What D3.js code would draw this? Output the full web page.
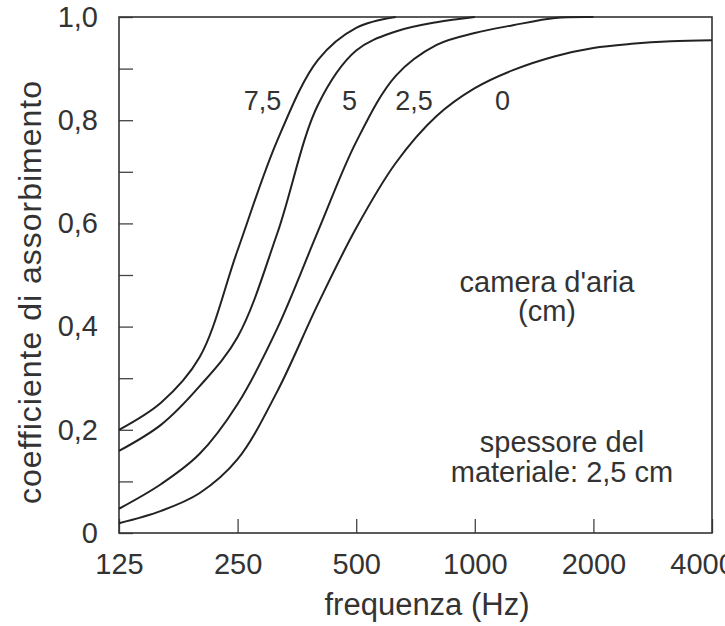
<!DOCTYPE html>
<html>
<head>
<meta charset="utf-8">
<script src="https://cdn.jsdelivr.net/npm/d3@7"></script>
<style>
  body { margin: 0; background: #fff; }
  text { font-family: "Liberation Sans", Arial, Helvetica, sans-serif; fill: #333; }
</style>
</head>
<body>
<div id="chart"></div>
<script>
// frequenze (Hz) dei punti
const freqs = [125, 160, 200, 250, 315, 400, 500, 630, 800, 1000, 1250, 1600, 2000, 2500, 3150, 4000];

// coefficiente di assorbimento per camera d'aria (cm)
const air75 = [0.200, 0.253, 0.340, 0.548, 0.760, 0.917, 0.979, 1.000];
const air5  = [0.159, 0.210, 0.284, 0.380, 0.580, 0.830, 0.935, 0.972, 0.990, 1.000];
const air25 = [0.047, 0.095, 0.153, 0.250, 0.396, 0.585, 0.758, 0.886, 0.946, 0.969, 0.984, 0.998, 1.000];
const air0  = [0.019, 0.043, 0.077, 0.143, 0.274, 0.444, 0.591, 0.717, 0.808, 0.862, 0.897, 0.924, 0.940, 0.948, 0.953, 0.955];

const curveLabels = ["7,5", "5", "2,5", "0"];
const labelFreqs = [289, 481, 701, 1176];
const labelValue = 0.82;

const xTicks = [125, 250, 500, 1000, 2000, 4000];
const yTicks = [0, 0.2, 0.4, 0.6, 0.8, 1.0];
const yMinor = [0.1, 0.3, 0.5, 0.7, 0.9];

const W = 725, H = 626;
const margin = { top: 17, right: 13, bottom: 93, left: 119 };
const width = W - margin.left - margin.right;
const height = H - margin.top - margin.bottom;

const svg = d3.select("#chart").append("svg")
  .attr("width", W)
  .attr("height", H);

const g = svg.append("g")
  .attr("transform", `translate(${margin.left},${margin.top})`);

const x = d3.scaleLog().base(2).domain([125, 4000]).range([0, width]);
const y = d3.scaleLinear().domain([0, 1]).range([height, 0]);

const fmt = d => d === 0 ? "0" : d3.format(".1f")(d).replace(".", ",");

// assi con tacche interne
const xAxis = g.append("g")
  .attr("transform", `translate(0,${height})`)
  .call(d3.axisBottom(x).tickValues(xTicks).tickFormat(d3.format("d")).tickSize(-14).tickPadding(20));

const yAxis = g.append("g")
  .call(d3.axisLeft(y).tickValues(yTicks).tickFormat(fmt).tickSize(-14).tickPadding(21));

g.append("g")
  .call(d3.axisLeft(y).tickValues(yMinor).tickFormat("").tickSize(-14));

g.selectAll(".domain").remove();
g.selectAll(".tick line").attr("stroke", "#444").attr("stroke-width", 1.3);

xAxis.selectAll("text").style("font-size", "29px").attr("fill", "#333");
xAxis.selectAll("text").filter(d => d === 4000).attr("dx", -10);
yAxis.selectAll("text").style("font-size", "29px").attr("fill", "#333");

// cornice
g.append("rect")
  .attr("width", width)
  .attr("height", height)
  .attr("fill", "none")
  .attr("stroke", "#333")
  .attr("stroke-width", 1.6);

// curve
const series = [air75, air5, air25, air0];
const line = d3.line()
  .x((d, i) => x(freqs[i]))
  .y(d => y(d))
  .curve(d3.curveCatmullRom.alpha(0.5));

g.selectAll("path.curve")
  .data(series)
  .enter().append("path")
  .attr("class", "curve")
  .attr("d", line)
  .attr("fill", "none")
  .attr("stroke", "#222")
  .attr("stroke-width", 2);

g.selectAll("text.clabel")
  .data(curveLabels)
  .enter().append("text")
  .attr("class", "clabel")
  .attr("x", (d, i) => x(labelFreqs[i]))
  .attr("y", y(labelValue))
  .attr("text-anchor", "middle")
  .style("font-size", "27px")
  .text(d => d);

// note
const notes = g.append("g")
  .attr("text-anchor", "middle")
  .style("font-size", "29px");
notes.append("text").attr("x", 428).attr("y", 275).text("camera d'aria");
notes.append("text").attr("x", 428).attr("y", 304).text("(cm)");
notes.append("text").attr("x", 443).attr("y", 435).text("spessore del");
notes.append("text").attr("x", 443).attr("y", 465).text("materiale: 2,5 cm");

// titoli assi
svg.append("text")
  .attr("x", 427)
  .attr("y", 615)
  .attr("text-anchor", "middle")
  .style("font-size", "31px")
  .text("frequenza (Hz)");

svg.append("text")
  .attr("transform", "translate(41,292) rotate(-90)")
  .attr("text-anchor", "middle")
  .style("font-size", "32px")
  .style("letter-spacing", "1px")
  .text("coefficiente di assorbimento");
</script>
</body>
</html>
